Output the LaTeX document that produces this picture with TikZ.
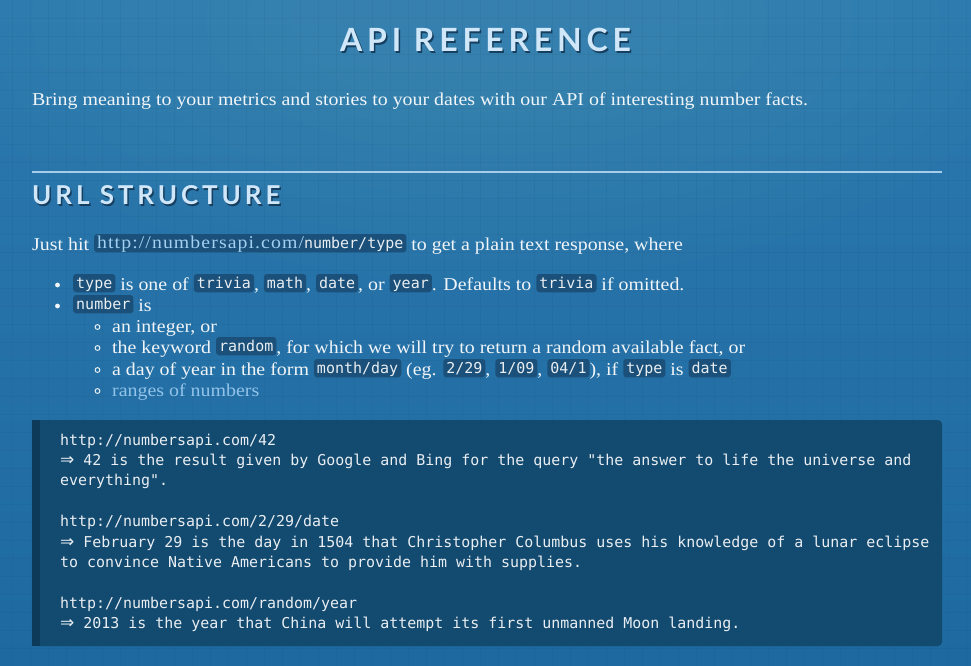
\documentclass[tikz,border=0pt]{standalone}
\usepackage{fontspec}
\setmainfont{Liberation Serif}[FakeStretch=1.10]
\newfontfamily\linkfont{Liberation Serif}[FakeStretch=1.10, LetterSpace=6]
\newfontfamily\headfont{Lato}[LetterSpace=15]
\newfontfamily\codefont{DejaVu Sans Mono}
\newfontfamily\arrowfont{DejaVu Sans}
\definecolor{bgtop}{HTML}{2C79AF}
\definecolor{bgbot}{HTML}{1E6AA0}
\definecolor{maintext}{HTML}{F1F5F8}
\definecolor{headc}{HTML}{CFE7F9}
\definecolor{headsh}{HTML}{163E5E}
\definecolor{hrc}{HTML}{A6CDE9}
\definecolor{icbg}{HTML}{1A5079}
\definecolor{codeblock}{HTML}{134A70}
\definecolor{codeborder}{HTML}{0E3A5A}
\definecolor{codetext}{HTML}{E9EEF2}
\definecolor{linkc}{HTML}{A2D0F2}
\definecolor{rangec}{HTML}{92C4EA}
\tikzset{
  gridline/.style={draw=black, draw opacity=0.035, line width=0.8pt},
  glow/.style={fill=white, fill opacity=0.008, draw=none},
  txt/.style={anchor=base west, inner sep=0pt, text=maintext, font=\fontsize{18.1}{21}\selectfont},
  icode/.style={fill=icbg, rounded corners=3pt, text=codetext, font=\codefont\fontsize{15}{18}\selectfont, inner xsep=3pt, inner ysep=3pt, text height=11.3pt, text depth=1pt},
  codeline/.style={anchor=base west, inner sep=0pt, text=codetext, font=\codefont\fontsize{14.95}{20.4}\selectfont},
  head/.style={anchor=base west, inner sep=0pt, text=headc, font=\headfont\bfseries\fontsize{32}{36}\selectfont},
  subhead/.style={anchor=base west, inner sep=0pt, text=headc, font=\headfont\bfseries\fontsize{26}{32}\selectfont},
  hrule/.style={draw=hrc, line width=2pt},
  bulletdot/.style={fill=maintext, draw=none},
  subbullet/.style={draw=maintext, line width=0.9pt, fill=none},
}
\newcommand\ic[1]{\tikz[baseline={([yshift=-1.7pt]ic.base)}]\node[icode] (ic) {#1};}
\newcommand\arr{{\arrowfont\fontsize{17}{20}\selectfont ⇒}}
\newcommand\shadowed[1]{\rlap{\hspace{1.5pt}\raisebox{-2pt}{\color{headsh}#1}}#1}
\begin{document}
\begin{tikzpicture}[x=1pt,y=-1pt]
\useasboundingbox (0,0) rectangle (971,666);
\shade[top color=bgtop, bottom color=bgbot] (0,0) rectangle (971,666);
\foreach \r in {1,0.92,...,0.2} \fill[glow] (486,20) ellipse ({540*\r} and {260*\r});
\foreach \gx in {12,30,...,966} \draw[gridline] (\gx,0) -- (\gx,666);
\foreach \gy in {18,36,...,660} \draw[gridline] (0,\gy) -- (971,\gy);

% title
\node[head] (title) at (340,52) {\shadowed{API REFERENCE}};

\node[txt] (intro) at (32,106) {Bring meaning to your metrics and stories to your dates with our API of interesting number facts.};

\coordinate (hrL) at (32,172);
\coordinate (hrR) at (942,172);
\draw[hrule] (hrL) -- (hrR);

\node[subhead] (url) at (32,204) {\shadowed{URL STRUCTURE}};

\node[txt] (just) at (32,250) {Just hit \tikz[baseline={([yshift=-1.7pt]icurl.base)}]\node[icode] (icurl) {\linkfont\fontsize{18}{21}\selectfont\color{linkc}http://numbersapi.com/\codefont\fontsize{15}{18}\selectfont\color{codetext}number/type}; to get a plain text response, where};

\fill[bulletdot] (57.5,285) circle (2.4);
\node[txt] (b1) at (73,290) {\ic{type} is one of \ic{trivia}, \ic{math}, \ic{date}, or \ic{year}. Defaults to \ic{trivia} if omitted.};
\fill[bulletdot] (57.5,306) circle (2.4);
\node[txt] (b2) at (73,311) {\ic{number} is};

\draw[subbullet] (97.5,327) circle (2.4);
\node[txt] (s1) at (112,332) {an integer, or};
\draw[subbullet] (97.5,348) circle (2.4);
\node[txt] (s2) at (112,353) {the keyword \ic{random}, for which we will try to return a random available fact, or};
\draw[subbullet] (97.5,370) circle (2.4);
\node[txt] (s3) at (112,375) {a day of year in the form \ic{month/day} (eg. \ic{2/29}, \ic{1/09}, \ic{04/1}), if \ic{type} is \ic{date}};
\draw[subbullet] (97.5,391) circle (2.4);
\node[txt, text=rangec] (s4) at (112,396) {ranges of numbers};

% code block
\fill[codeblock, rounded corners=4pt] (32,420) rectangle (942,646);
\fill[codeborder] (32,420) rectangle (40,646);
\node[codeline] (c1) at (60,445) {http://numbersapi.com/42};
\node[codeline] (c2) at (60,465.4) {\arr{} 42 is the result given by Google and Bing for the query "the answer to life the universe and};
\node[codeline] (c3) at (60,485.8) {everything".};
\node[codeline] (c4) at (60,526.6) {http://numbersapi.com/2/29/date};
\node[codeline] (c5) at (60,547) {\arr{} February 29 is the day in 1504 that Christopher Columbus uses his knowledge of a lunar eclipse};
\node[codeline] (c6) at (60,567.4) {to convince Native Americans to provide him with supplies.};
\node[codeline] (c7) at (60,608.2) {http://numbersapi.com/random/year};
\node[codeline] (c8) at (60,628.6) {\arr{} 2013 is the year that China will attempt its first unmanned Moon landing.};
\end{tikzpicture}
\end{document}
